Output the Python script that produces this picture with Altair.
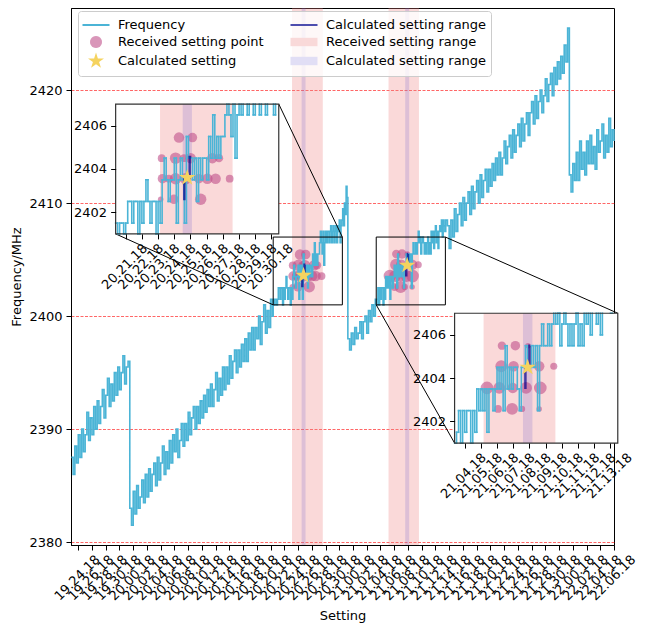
import json
import math
import pandas as pd
import altair as alt

FONT = "DejaVu Sans"
LINE_COLOR = "#4bb4d6"
POINT_COLOR = "#c0508a"
STAR_COLOR = "#f5d35f"
CALC_COLOR = "#00008b"
RECV_BAND_COLOR = "#f08080"
CALC_BAND_COLOR = "#6a5acd"

# x positions: minutes along the "Setting" axis (recording sessions placed side by side)
X_DOMAIN = [-1.06, 78.0]
Y_DOMAIN = [2379.75, 2427.27]
W, H = 543, 537

MAIN_TICK_VALUES = list(range(0, 80, 2))
MAIN_TICK_LABELS = [
    "19.24.18", "19.26.18", "19.28.18", "19.30.18",
    "20.00.18", "20.02.18", "20.04.18", "20.06.18", "20.08.18", "20.10.18", "20.12.18", "20.14.18",
    "20.16.18", "20.18.18", "20.20.18", "20.22.18", "20.24.18", "20.26.18", "20.28.18", "20.30.18",
    "21.00.18", "21.02.18", "21.04.18", "21.06.18", "21.08.18", "21.10.18", "21.12.18", "21.14.18",
    "21.16.18", "21.18.18", "21.20.18", "21.22.18", "21.24.18", "21.26.18", "21.28.18", "21.30.18",
    "22.00.18", "22.02.18", "22.04.18", "22.06.18",
]
Y_TICKS = [2380, 2390, 2400, 2410, 2420]

INSET_TICK_VALUES = [[29, 30, 31, 32, 33, 34, 35, 36, 37, 38],
                     [44, 45, 46, 47, 48, 49, 50, 51, 52, 53]]
INSET_TICK_LABELS = [
    ["20.21.18", "20.22.18", "20.23.18", "20.24.18", "20.25.18",
     "20.26.18", "20.27.18", "20.28.18", "20.29.18", "20.30.18"],
    ["21.04.18", "21.05.18", "21.06.18", "21.07.18", "21.08.18",
     "21.09.18", "21.10.18", "21.11.18", "21.12.18", "21.13.18"],
]
INSET_Y_TICKS = [2402, 2404, 2406]

# ---- frequency trace (MHz) ----
FREQ_SESSION1 = [2387.5, 2386.0, 2388.5, 2387.0, 2389.5, 2387.5, 2390.0, 2388.0, 2389.5, 2391.5,
                 2389.0, 2391.0, 2389.5, 2392.0, 2390.0, 2392.5, 2390.5, 2392.0, 2393.5, 2391.0,
                 2393.0, 2394.5, 2392.0, 2394.0, 2392.5, 2395.0, 2393.0, 2395.5, 2393.5, 2395.0,
                 2396.5, 2394.0, 2395.5, 2396.0]
FREQ_SESSION2 = [2383.0, 2381.5, 2384.5, 2382.5, 2385.0, 2383.0, 2384.0, 2385.5,
                 2383.5, 2386.0, 2384.0, 2386.5, 2384.5, 2386.0, 2387.0, 2385.0,
                 2387.5, 2385.5, 2387.0, 2388.5, 2386.0, 2388.0, 2386.5, 2389.0,
                 2387.0, 2389.5, 2388.0, 2390.0, 2387.5, 2389.0, 2390.5, 2388.5,
                 2390.5, 2389.0, 2391.5, 2389.5, 2391.0, 2392.0, 2390.0, 2392.0,
                 2390.5, 2392.5, 2391.0, 2393.0, 2391.5, 2393.5, 2392.0, 2394.0,
                 2392.0, 2393.5, 2395.0, 2392.5, 2394.5, 2393.0, 2395.5, 2393.5,
                 2395.5, 2394.0, 2396.5, 2394.5, 2396.0, 2397.0, 2395.0, 2397.0,
                 2395.5, 2397.5, 2396.0, 2398.0, 2396.0, 2398.5, 2397.0, 2399.0,
                 2397.0, 2399.0, 2398.0, 2400.0, 2397.5, 2399.5, 2401.0, 2398.5,
                 2400.5, 2399.0, 2401.5, 2400.0]
FREQ_ZOOM1 = [2401.5, 2401.0, 2401.5, 2401.5, 2401.0, 2401.5, 2402.5, 2402.5,
              2401.5, 2402.5, 2402.5, 2401.0, 2402.5, 2401.5, 2402.5, 2403.5,
              2402.5, 2401.5, 2402.5, 2402.5, 2401.0, 2402.5, 2401.5, 2403.5,
              2404.5, 2403.5, 2402.5, 2403.5, 2403.5, 2404.5, 2401.5, 2403.5,
              2404.5, 2403.5, 2401.5, 2405.5, 2404.5, 2404.5, 2403.5, 2404.5,
              2402.5, 2404.5, 2403.5, 2404.5, 2404.5, 2403.5, 2405.5, 2404.5,
              2406.5, 2404.5, 2405.5, 2404.5, 2405.5, 2405.5, 2406.5, 2407.5,
              2406.5, 2405.5, 2407.5, 2404.5, 2406.5, 2407.5, 2406.5, 2407.5,
              2407.5, 2406.5, 2407.5, 2408.0, 2406.5, 2407.5, 2408.0, 2406.5,
              2407.5, 2408.0, 2406.5, 2408.0, 2407.5, 2408.5, 2406.5, 2408.0,
              2408.5, 2409.5, 2408.0, 2410.0, 2409.0, 2411.5, 2410.5]
FREQ_SESSION3A = [2398.0, 2397.0, 2398.5, 2397.5, 2399.0, 2398.0, 2398.5, 2399.5, 2398.0,
                  2399.5, 2400.0, 2398.5, 2400.5, 2399.5, 2401.0, 2400.0, 2401.5]
FREQ_ZOOM2 = [2401.0, 2401.5, 2402.5, 2401.0, 2402.5, 2401.5, 2402.5, 2402.5,
              2401.0, 2402.5, 2401.5, 2403.5, 2402.5, 2403.5, 2402.5, 2403.5,
              2401.5, 2403.5, 2403.5, 2402.5, 2403.5, 2404.5, 2403.5, 2404.5,
              2402.5, 2405.5, 2403.5, 2404.5, 2403.5, 2404.5, 2404.5, 2403.5,
              2402.5, 2404.5, 2404.5, 2405.5, 2404.5, 2404.5, 2405.5, 2404.5,
              2405.5, 2402.5, 2405.5, 2406.5, 2405.5, 2405.5, 2406.5, 2405.5,
              2406.5, 2407.5, 2406.5, 2407.0, 2405.5, 2406.5, 2407.0, 2406.5,
              2405.5, 2406.5, 2405.5, 2406.5, 2407.0, 2405.5, 2406.5, 2405.5,
              2407.5, 2406.5, 2407.5, 2406.0, 2407.5, 2408.0, 2406.5, 2407.5,
              2406.0, 2407.5, 2408.0, 2407.5, 2408.5, 2407.0, 2408.5, 2408.0,
              2407.5, 2408.5]
FREQ_SESSION3B = [2408.0, 2406.0, 2408.5, 2407.0, 2409.5, 2407.5, 2409.0, 2410.0,
                  2408.0, 2410.5, 2408.5, 2410.0, 2411.0, 2409.0, 2411.5, 2409.5,
                  2411.0, 2412.0, 2410.0, 2412.5, 2410.5, 2412.0, 2413.0, 2411.0,
                  2413.0, 2411.5, 2413.5, 2412.0, 2414.0, 2412.5, 2414.5, 2412.5,
                  2414.0, 2415.5, 2413.5, 2415.0, 2416.0, 2414.0, 2416.5, 2414.5,
                  2416.0, 2417.0, 2415.0, 2417.5, 2415.5, 2417.0, 2418.0, 2416.0,
                  2418.0, 2419.0, 2417.0, 2419.5, 2417.5, 2419.0, 2420.0, 2418.0,
                  2419.5, 2421.0, 2419.0, 2420.5, 2421.5, 2419.5, 2422.0, 2420.5,
                  2422.5, 2421.0, 2423.0, 2421.5, 2424.0, 2422.5, 2425.5]
FREQ_SESSION4 = [2412.5, 2411.0, 2413.5, 2412.0, 2414.5, 2412.0, 2415.5, 2413.0, 2414.5,
                 2412.5, 2415.5, 2413.5, 2416.0, 2413.5, 2415.0, 2413.0, 2416.5, 2414.5,
                 2415.5, 2417.0, 2414.0, 2416.0, 2414.5, 2417.5, 2415.0, 2416.5, 2415.5]
# (first position, sample spacing, values)
FREQ_SEGMENTS = [(-1.0, 0.25, FREQ_SESSION1), (7.5, 0.25, FREQ_SESSION2),
                 (28.375, 0.125, FREQ_ZOOM1), (39.25, 0.25, FREQ_SESSION3A),
                 (43.375, 0.125, FREQ_ZOOM2), (53.75, 0.25, FREQ_SESSION3B),
                 (71.5, 0.25, FREQ_SESSION4)]

# ---- received setting points ----
POINT_X = [31.16, 31.98, 33.63, 31.27, 31.67, 32.08, 32.70, 33.52, 34.04, 34.55, 35.42,
           31.22, 32.08, 32.60, 33.01, 34.35, 34.76, 32.29, 33.12,
           46.06, 46.93, 47.54, 48.60, 45.38, 46.14, 46.97, 47.79, 48.67,
           46.26, 47.02, 48.60, 49.50, 46.30, 47.13, 47.91]
POINT_F = [2402.6, 2402.6, 2402.6, 2403.55, 2403.55, 2403.55, 2403.55, 2403.55, 2403.55, 2403.55, 2403.55,
           2404.5, 2404.5, 2404.5, 2404.5, 2404.5, 2404.5, 2405.45, 2405.45,
           2402.58, 2402.58, 2402.58, 2402.58, 2403.55, 2403.55, 2403.55, 2403.55, 2403.55,
           2404.55, 2404.55, 2404.55, 2404.55, 2405.5, 2405.5, 2405.5]
POINT_SIZE = [30, 90, 130, 90, 60, 130, 130, 90, 110, 110, 60,
              60, 130, 60, 110, 110, 70, 110, 90,
              60, 140, 40, 30, 160, 140, 110, 140, 160,
              140, 110, 110, 50, 70, 90, 30]
POINT_BOX = [0] * 19 + [1] * 16

STAR_X = [32.80, 47.89]
STAR_F = [2403.6, 2404.5]

CALC_X = [32.62, 32.62, 32.95, 32.95, 33.05, 47.75, 47.75, 48.0, 48.0, 48.05]
CALC_F = [2402.55, 2403.6, 2403.6, 2404.55, 2404.55, 2403.5, 2404.5, 2404.5, 2405.5, 2405.5]
CALC_BOX = [0] * 5 + [1] * 5

RECV_BAND_X = [[31.12, 35.60], [45.17, 49.60]]
CALC_BAND_X = [[32.52, 33.09], [47.60, 48.18]]

# zoomed regions and where their insets sit (main data coordinates)
BOX_X = [[28.38, 38.45], [43.38, 53.45]]
BOX_Y = [2401.0, 2407.0]
INSET_X = [[5.44, 29.19], [54.79, 78.55]]
INSET_Y = [[2407.28, 2418.77], [2388.77, 2400.26]]

# legend entries (column-major order: left column first)
LEGEND_KEYS = ["Frequency", "Received setting point", "Calculated setting",
               "Calculated setting range", "Received setting range", "Calculated setting range "]

# ---------------- build ----------------
fx, ff = [], []
for start, step, vals in FREQ_SEGMENTS:
    for i, v in enumerate(vals):
        fx.append(round(start + i * step, 4))
        ff.append(v)
line_df = pd.DataFrame({"u": fx, "f": ff})
pts_df = pd.DataFrame({"u": POINT_X, "f": POINT_F, "s": POINT_SIZE, "box": POINT_BOX})
star_df = pd.DataFrame({"u": STAR_X, "f": STAR_F, "box": [0, 1]})
calc_df = pd.DataFrame({"u": CALC_X, "f": CALC_F, "box": CALC_BOX})
recv_df = pd.DataFrame({"xa": [b[0] for b in RECV_BAND_X], "xb": [b[1] for b in RECV_BAND_X]})
cband_df = pd.DataFrame({"xa": [b[0] for b in CALC_BAND_X], "xb": [b[1] for b in CALC_BAND_X]})
box_df = pd.DataFrame({"xa": [b[0] for b in BOX_X], "xb": [b[1] for b in BOX_X],
                       "ya": [BOX_Y[0]] * 2, "yb": [BOX_Y[1]] * 2})
conn_rows = []
for k in range(2):
    conn_rows.append((BOX_X[k][1], BOX_Y[1], INSET_X[k][1], INSET_Y[k][1]))
    conn_rows.append((BOX_X[k][0], BOX_Y[0], INSET_X[k][0], INSET_Y[k][0]))
conn_df = pd.DataFrame(conn_rows, columns=["xa", "ya", "xb", "yb"])


def px(u):
    return (u - X_DOMAIN[0]) / (X_DOMAIN[1] - X_DOMAIN[0]) * W


def py(f):
    return (Y_DOMAIN[1] - f) / (Y_DOMAIN[1] - Y_DOMAIN[0]) * H


def lookup_expr(values, labels):
    return f"{json.dumps(labels)}[indexof({json.dumps(values)}, datum.value)]"


def step_rules(xs, fs, x0, x1, y0, y1):
    rows = []
    n = len(xs)
    for i in range(n):
        xa = xs[i]
        xb = xs[i + 1] if i + 1 < n else xs[i]
        if y0 <= fs[i] <= y1:
            a, b = max(xa, x0), min(xb, x1)
            if b > a:
                rows.append((a, b, fs[i], fs[i]))
        if i + 1 < n and x0 <= xb <= x1:
            lo, hi = sorted((fs[i], fs[i + 1]))
            lo, hi = max(lo, y0), min(hi, y1)
            if hi > lo:
                rows.append((xb, xb, lo, hi))
    return pd.DataFrame(rows, columns=["xa", "xb", "ya", "yb"])


def polygon_path(r, n=24):
    pts = [(r * math.cos(2 * math.pi * i / n), r * math.sin(2 * math.pi * i / n)) for i in range(n)]
    return "M" + "L".join(f"{x:.3f},{y:.3f}" for x, y in pts) + "Z"


STAR_PATH = ("M0,-1L0.2245,-0.309L0.951,-0.309L0.3633,0.118L0.588,0.809L0,0.382"
             "L-0.588,0.809L-0.3633,0.118L-0.951,-0.309L-0.2245,-0.309Z")
LEG_STAR = ("M0,-1.2L0.269,-0.371L1.141,-0.371L0.436,0.142L0.706,0.971L0,0.458"
            "L-0.706,0.971L-0.436,0.142L-1.141,-0.371L-0.269,-0.371Z")
LEG_LINE = "M-1.93,0L1.93,0"
LEG_CIRCLE = polygon_path(0.86)
LEG_RECT = "M-1.93,-0.6L1.93,-0.6L1.93,0.6L-1.93,0.6Z"

label_style = dict(labelAngle=-45, labelAlign="right", labelBaseline="middle",
                   labelOffset=19, labelPadding=7, tickSize=5, labelOverlap=False,
                   labelFlush=False)

# ---------------- main panel ----------------
xm = alt.Scale(domain=X_DOMAIN, nice=False, zero=False)
ym = alt.Scale(domain=Y_DOMAIN, nice=False, zero=False)
xax = alt.Axis(values=MAIN_TICK_VALUES, labelExpr=lookup_expr(MAIN_TICK_VALUES, MAIN_TICK_LABELS),
               title="Setting", orient="bottom", grid=False, titlePadding=7, **label_style)
yax = alt.Axis(values=Y_TICKS, format="d", title="Frequency/MHz", orient="left", grid=True,
               gridColor="#ff0000", gridWidth=0.6, gridDash=[3, 1.5], tickSize=5,
               labelPadding=4, titlePadding=5)


def XM(f):
    return alt.X(f, scale=xm, axis=xax)


def YM(f):
    return alt.Y(f, scale=ym, axis=yax)


m_recv = alt.Chart(recv_df).mark_rect(color=RECV_BAND_COLOR, opacity=0.3).encode(x=XM("xa:Q"), x2="xb")
m_cband = alt.Chart(cband_df).mark_rect(color=CALC_BAND_COLOR, opacity=0.2).encode(x=XM("xa:Q"), x2="xb")
m_pts = alt.Chart(pts_df).mark_circle(color=POINT_COLOR, opacity=0.6).encode(
    x=XM("u:Q"), y=YM("f:Q"), size=alt.Size("s:Q", scale=None))
m_line = alt.Chart(line_df).mark_line(color=LINE_COLOR, strokeWidth=1.6, interpolate="step-after").encode(
    x=XM("u:Q"), y=YM("f:Q"))
m_calc = alt.Chart(calc_df).mark_line(color=CALC_COLOR, opacity=0.7, strokeWidth=2.5).encode(
    x=XM("u:Q"), y=YM("f:Q"), detail="box:N")
m_star = alt.Chart(star_df).mark_point(shape=STAR_PATH, filled=True, color=STAR_COLOR, opacity=1,
                                       size=300, strokeWidth=0).encode(x=XM("u:Q"), y=YM("f:Q"))
m_box = alt.Chart(box_df).mark_rect(fillOpacity=0, stroke="black", strokeWidth=1).encode(
    x=XM("xa:Q"), x2="xb", y=YM("ya:Q"), y2="yb")
m_conn = alt.Chart(conn_df).mark_rule(color="black", strokeWidth=1).encode(
    x=XM("xa:Q"), x2="xb", y=YM("ya:Q"), y2="yb")

legend = alt.Legend(orient="none", legendX=7, legendY=3, columns=2, symbolSize=196,
                    symbolOffset=6, labelFontSize=13, labelFont=FONT, padding=4, rowPadding=-5,
                    columnPadding=7, labelOffset=14, labelLimit=400, gridAlign="all",
                    fillColor="rgba(255,255,255,0.8)", strokeColor="#cccccc", cornerRadius=3,
                    symbolStrokeWidth=2, symbolOpacity=1)
leg_df = pd.DataFrame({"cat": LEGEND_KEYS, "u": [0.0] * 6, "f": [2500.0] * 6})
LEG_FILL = ["transparent", "#d996b9", STAR_COLOR, "transparent", "#f9d9d9", "#e1def5"]
LEG_STROKE = [LINE_COLOR, "transparent", "transparent", "#4d4dae", "transparent", "transparent"]
LEG_SHAPE = [LEG_LINE, LEG_CIRCLE, LEG_STAR, LEG_LINE, LEG_RECT, LEG_RECT]
m_leg = alt.Chart(leg_df).mark_point(filled=True, opacity=1, size=196, strokeWidth=2, clip=True).encode(
    x=XM("u:Q"), y=YM("f:Q"),
    fill=alt.Fill("cat:N", scale=alt.Scale(domain=LEGEND_KEYS, range=LEG_FILL), legend=legend, title=None),
    stroke=alt.Stroke("cat:N", scale=alt.Scale(domain=LEGEND_KEYS, range=LEG_STROKE), legend=legend, title=None),
    shape=alt.Shape("cat:N", scale=alt.Scale(domain=LEGEND_KEYS, range=LEG_SHAPE), legend=legend, title=None),
)

main = alt.layer(m_recv, m_cband, m_pts, m_line, m_calc, m_star, m_box, m_conn, m_leg)


# ---------------- insets ----------------
def make_inset(k):
    bx0, bx1 = BOX_X[k]
    by0, by1 = BOX_Y
    xr = [px(INSET_X[k][0]), px(INSET_X[k][1])]
    yr = [py(INSET_Y[k][0]), py(INSET_Y[k][1])]
    xsc = alt.Scale(domain=[bx0, bx1], range=xr, nice=False, zero=False)
    ysc = alt.Scale(domain=[by0, by1], range=yr, nice=False, zero=False)
    ixax = alt.Axis(values=INSET_TICK_VALUES[k],
                    labelExpr=lookup_expr(INSET_TICK_VALUES[k], INSET_TICK_LABELS[k]),
                    orient="bottom", offset=yr[0] - H, domain=False, grid=False, title=None,
                    zindex=1, **label_style)
    iyax = alt.Axis(values=INSET_Y_TICKS, format="d", orient="left", offset=-xr[0], domain=False,
                    grid=False, title=None, tickSize=5, labelPadding=4, zindex=1)

    def X(f):
        return alt.X(f, scale=xsc, axis=ixax)

    def Y(f):
        return alt.Y(f, scale=ysc, axis=iyax)

    frame = pd.DataFrame({"xa": [bx0], "xb": [bx1], "ya": [by0], "yb": [by1]})
    rb = pd.DataFrame({"xa": [RECV_BAND_X[k][0]], "xb": [RECV_BAND_X[k][1]], "ya": [by0], "yb": [by1]})
    cb = pd.DataFrame({"xa": [CALC_BAND_X[k][0]], "xb": [CALC_BAND_X[k][1]], "ya": [by0], "yb": [by1]})
    segs = step_rules(fx, ff, bx0, bx1, by0, by1)

    bg = alt.Chart(frame).mark_rect(fill="white").encode(x=X("xa:Q"), x2="xb", y=Y("ya:Q"), y2="yb")
    r1 = alt.Chart(rb).mark_rect(color=RECV_BAND_COLOR, opacity=0.3).encode(
        x=X("xa:Q"), x2="xb", y=Y("ya:Q"), y2="yb")
    r2 = alt.Chart(cb).mark_rect(color=CALC_BAND_COLOR, opacity=0.2).encode(
        x=X("xa:Q"), x2="xb", y=Y("ya:Q"), y2="yb")
    p = alt.Chart(pts_df[pts_df.box == k]).mark_circle(color=POINT_COLOR, opacity=0.6).encode(
        x=X("u:Q"), y=Y("f:Q"), size=alt.Size("s:Q", scale=None))
    ln = alt.Chart(segs).mark_rule(color=LINE_COLOR, strokeWidth=1.6, strokeCap="square").encode(
        x=X("xa:Q"), x2="xb", y=Y("ya:Q"), y2="yb")
    cl = alt.Chart(calc_df[calc_df.box == k]).mark_line(color=CALC_COLOR, opacity=0.7, strokeWidth=2.5).encode(
        x=X("u:Q"), y=Y("f:Q"))
    st = alt.Chart(star_df[star_df.box == k]).mark_point(shape=STAR_PATH, filled=True, color=STAR_COLOR,
                                                        opacity=1, size=300, strokeWidth=0).encode(
        x=X("u:Q"), y=Y("f:Q"))
    fr = alt.Chart(frame).mark_rect(fillOpacity=0, stroke="#333333", strokeWidth=1.2).encode(
        x=X("xa:Q"), x2="xb", y=Y("ya:Q"), y2="yb")
    return alt.layer(bg, r1, r2, p, ln, cl, st, fr)


chart = alt.layer(main, make_inset(0), make_inset(1)).resolve_scale(
    x="independent", y="independent"
).properties(
    width=W, height=H, padding={"left": 2, "top": 0, "right": 0, "bottom": 0}
).configure_axis(
    labelFont=FONT, titleFont=FONT, labelFontSize=13, titleFontSize=13, titleFontWeight="normal",
    labelColor="black", titleColor="black", tickColor="black", domainColor="black"
).configure_view(stroke="black", strokeWidth=1)

chart.save("out.html", embed_options={"renderer": "svg", "actions": False})
